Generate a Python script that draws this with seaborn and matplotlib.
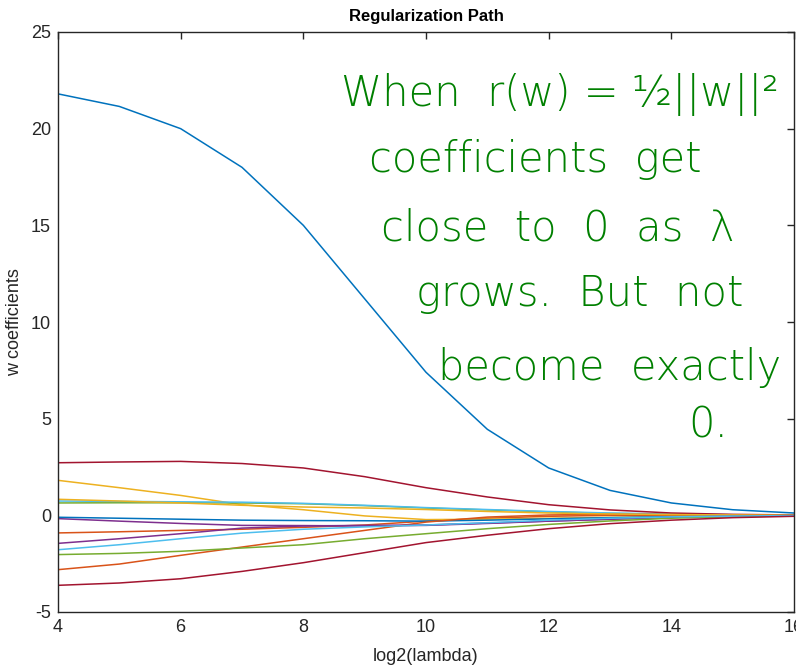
import numpy as np
import pandas as pd
import matplotlib
matplotlib.use("Agg")
import matplotlib.pyplot as plt
import seaborn as sns

# ---- data ----
log2_lambda = [4, 5, 6, 7, 8, 9, 10, 11, 12, 13, 14, 15, 16]

w01 = [21.8, 21.15, 20.0, 18.0, 15.0, 11.2, 7.4, 4.45, 2.45, 1.29, 0.64, 0.29, 0.12]   # blue
w02 = [-0.91, -0.85, -0.78, -0.72, -0.62, -0.5, -0.3, -0.15, -0.05, 0.0, 0.0, 0.0, 0.0]  # orange
w03 = [1.81, 1.43, 1.03, 0.55, 0.29, -0.03, -0.22, -0.2, -0.15, -0.1, -0.06, -0.03, -0.01]  # yellow
w04 = [-0.17, -0.3, -0.42, -0.52, -0.53, -0.55, -0.52, -0.42, -0.3, -0.2, -0.1, -0.05, -0.02]  # purple
w05 = [0.64, 0.65, 0.65, 0.64, 0.6, 0.5, 0.38, 0.28, 0.18, 0.1, 0.05, 0.02, 0.0]  # green
w06 = [0.74, 0.72, 0.70, 0.68, 0.62, 0.52, 0.40, 0.3, 0.2, 0.12, 0.07, 0.03, 0.01]  # light blue
w07 = [2.72, 2.76, 2.79, 2.68, 2.45, 2.0, 1.43, 0.95, 0.55, 0.28, 0.12, 0.05, 0.02]  # dark red
w08 = [-0.1, -0.15, -0.2, -0.25, -0.27, -0.28, -0.3, -0.25, -0.18, -0.12, -0.07, -0.03, -0.01]  # blue
w09 = [-2.81, -2.52, -2.07, -1.64, -1.21, -0.78, -0.35, -0.09, 0.02, 0.05, 0.04, 0.02, 0.01]  # orange
w10 = [0.83, 0.74, 0.64, 0.52, 0.43, 0.38, 0.30, 0.2, 0.12, 0.07, 0.04, 0.02, 0.0]  # yellow
w11 = [-1.45, -1.21, -0.95, -0.66, -0.55, -0.52, -0.5, -0.4, -0.3, -0.2, -0.1, -0.05, -0.02]  # purple
w12 = [-2.03, -1.97, -1.86, -1.69, -1.52, -1.21, -0.95, -0.69, -0.47, -0.29, -0.15, -0.07, -0.03]  # green
w13 = [-1.78, -1.52, -1.21, -0.92, -0.72, -0.6, -0.5, -0.38, -0.25, -0.15, -0.08, -0.04, -0.01]  # light blue
w14 = [-3.62, -3.5, -3.28, -2.9, -2.45, -1.93, -1.41, -1.03, -0.69, -0.43, -0.25, -0.12, -0.05]  # dark red

coef_series = [w01, w02, w03, w04, w05, w06, w07, w08, w09, w10, w11, w12, w13, w14]
coef_names = [f"w{i + 1}" for i in range(len(coef_series))]

x_ticks = [4, 6, 8, 10, 12, 14, 16]
y_ticks = [-5, 0, 5, 10, 15, 20, 25]

note_lines = ["When  r(w) = ½||w||²",
              "coefficients  get",
              "close  to  0  as  λ",
              "grows.  But  not",
              "become  exactly",
              "0."]

# ---- build long-form table ----
rows = []
for name, vals in zip(coef_names, coef_series):
    for xv, yv in zip(log2_lambda, vals):
        rows.append({"log2(lambda)": xv, "w": yv, "coef": name})
df = pd.DataFrame(rows)

matlab_colors = ["#0072BD", "#D95319", "#EDB120", "#7E2F8E",
                 "#77AC30", "#4DBEEE", "#A2142F"]
palette = {n: matlab_colors[i % 7] for i, n in enumerate(coef_names)}

sns.set_theme(style="white")
plt.rcParams["font.family"] = ["Liberation Sans", "DejaVu Sans"]

fig = plt.figure(figsize=(7.96, 6.66), dpi=100)
ax = fig.add_axes([58 / 796, 1 - 612 / 666, (794 - 58) / 796, (612 - 32) / 666])

sns.lineplot(data=df, x="log2(lambda)", y="w", hue="coef", palette=palette,
             linewidth=1.1, legend=False, ax=ax, estimator=None, sort=False)

ax.set_xlim(4, 16)
ax.set_ylim(-5, 25)
ax.set_xticks(x_ticks)
ax.set_yticks(y_ticks)
ax.set_xticklabels([str(t) for t in x_ticks])
ax.set_yticklabels([str(t) for t in y_ticks])

axis_col = "#262626"
for sp in ax.spines.values():
    sp.set_visible(True)
    sp.set_color(axis_col)
    sp.set_linewidth(1.0)
ax.tick_params(direction="in", length=5, width=1.0, colors=axis_col,
               top=True, right=True, labelsize=13, pad=5)
for lab in ax.get_xticklabels() + ax.get_yticklabels():
    lab.set_color(axis_col)

ax.set_xlabel("log2(lambda)", fontsize=13, color=axis_col, labelpad=9)
ax.set_ylabel("w coefficients", fontsize=13, color=axis_col, labelpad=6)
ax.set_title("Regularization Path", fontsize=12, fontweight="bold", color="black", pad=8)

# handwritten-style annotation (as text)
note_pos = [(560, 95), (535, 160), (558, 228), (580, 293), (610, 367), (708, 425)]
for txt, (px, py) in zip(note_lines, note_pos):
    fig.text(px / 796, 1 - py / 666, txt, ha="center", va="center",
             fontsize=30, color="#008000", family=["DejaVu Sans"],
             fontweight="light")

fig.savefig("out.png", dpi=100)
